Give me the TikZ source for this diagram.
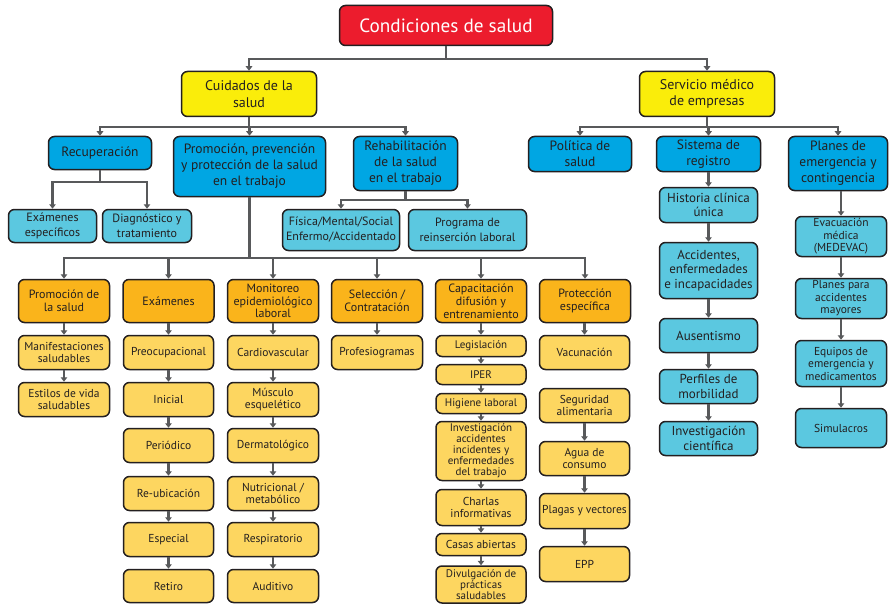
\documentclass[tikz,border=0pt]{standalone}
\usepackage{fontspec}
\setmainfont{PT Sans}
\usetikzlibrary{arrows.meta}

\definecolor{rootred}{HTML}{EC1C2D}
\definecolor{topyellow}{HTML}{FAED0A}
\definecolor{mainblue}{HTML}{00A6E3}
\definecolor{softblue}{HTML}{5BC8E0}
\definecolor{deeporange}{HTML}{FAB41B}
\definecolor{softyellow}{HTML}{FDD660}
\definecolor{wiregray}{HTML}{58595B}
\definecolor{inkdark}{HTML}{231F20}

\tikzset{
  wh/.style 2 args={minimum width=#1, minimum height=#2},
  boxbase/.style={draw=inkdark, line width=1.5pt, rounded corners=6pt,
    align=center, inner sep=1pt, text=inkdark},
  rootbox/.style={boxbase, fill=rootred, text=white,
    font=\fontsize{19.2}{23}\selectfont},
  topbox/.style={boxbase, fill=topyellow, font=\fontsize{14}{16.5}\selectfont},
  areabox/.style={boxbase, fill=mainblue, font=\fontsize{13.5}{16}\selectfont},
  subbox/.style={boxbase, fill=softblue, font=\fontsize{12}{15}\selectfont},
  regbox/.style={boxbase, fill=softblue, font=\fontsize{13}{14.5}\selectfont},
  emergbox/.style={boxbase, fill=softblue, font=\fontsize{11.5}{12.5}\selectfont},
  headbox/.style={boxbase, fill=deeporange, font=\fontsize{12}{12.8}\selectfont},
  itembox/.style={boxbase, fill=softyellow, font=\fontsize{11.5}{12.5}\selectfont},
  tinybox/.style={boxbase, fill=softyellow, font=\fontsize{11}{11}\selectfont},
  conn/.style={draw=wiregray, line width=2.6pt,
    -{Triangle[width=6.5pt,length=4.5pt]}},
}

\begin{document}
\begin{tikzpicture}[x=1pt, y=-1pt]
\fill[white] (0,0) rectangle (890,604);
\useasboundingbox (0,0) rectangle (890,604);

% bus heights
\coordinate (busA) at (0,59);
\coordinate (busB) at (0,127);
\coordinate (busC) at (0,182);
\coordinate (busD) at (0,200);
\coordinate (busE) at (0,258);

% top levels
\node[rootbox, wh={213}{40}] (root) at (446,25.5) {Condiciones de salud};
\node[topbox, wh={135}{45}] (cuid) at (249,94) {Cuidados de la\\salud};
\node[topbox, wh={135}{45}] (serv) at (707,94) {Servicio médico\\de empresas};

\node[areabox, wh={103}{33}] (recu) at (100,153) {Recuperación};
\node[areabox, wh={152}{60}] (prom) at (249.5,166.5) {Promoción, prevención\\y protección de la salud\\en el trabajo};
\node[areabox, wh={104}{54}] (rehab) at (405.5,163.5) {Rehabilitación\\de la salud\\en el trabajo};
\node[areabox, wh={103}{35}] (poli) at (580,154) {Política de\\salud};
\node[areabox, wh={104}{35}] (sist) at (708.5,154) {Sistema de\\registro};
\node[areabox, wh={99}{54}] (plan) at (838,163.5) {Planes de\\emergencia y\\contingencia};

\node[subbox, wh={88}{33}] (exesp) at (52.5,226) {Exámenes\\específicos};
\node[subbox, wh={89}{33}] (diag) at (147,226) {Diagnóstico y\\tratamiento};
\node[subbox, wh={117}{41}] (fis) at (341,230) {Física/Mental/Social\\Enfermo/Accidentado};
\node[subbox, wh={118}{41}] (prog) at (467.5,230) {Programa de\\reinserción laboral};

% column headers
\node[headbox, wh={91}{43}] (h1) at (64,301) {Promoción de\\la salud};
\node[headbox, wh={91}{43}] (h2) at (168.5,301) {Exámenes};
\node[headbox, wh={91}{43}] (h3) at (273,301) {Monitoreo\\epidemiológico\\laboral};
\node[headbox, wh={91}{43}] (h4) at (377,301) {Selección /\\Contratación};
\node[headbox, wh={91}{43}] (h5) at (481,301) {Capacitación\\difusión y\\entrenamiento};
\node[headbox, wh={91}{43}] (h6) at (585,301) {Protección\\específica};

% column 1
\node[itembox, wh={91}{34}] (a1) at (64,352.5) {Manifestaciones\\saludables};
\node[itembox, wh={91}{34}] (a2) at (64,399.5) {Estilos de vida\\saludables};
% column 2
\node[itembox, wh={90}{34}] (b1) at (168.5,352.5) {Preocupacional};
\node[itembox, wh={90}{34}] (b2) at (168.5,399.5) {Inicial};
\node[itembox, wh={90}{34}] (b3) at (168.5,445.5) {Periódico};
\node[itembox, wh={90}{34}] (b4) at (168.5,493.5) {Re-ubicación};
\node[itembox, wh={90}{34}] (b5) at (168.5,539.5) {Especial};
\node[itembox, wh={90}{33}] (b6) at (168.5,586) {Retiro};
% column 3
\node[itembox, wh={91}{34}] (c1) at (273,352.5) {Cardiovascular};
\node[itembox, wh={91}{34}] (c2) at (273,399.5) {Músculo\\esquelético};
\node[itembox, wh={91}{34}] (c3) at (273,445.5) {Dermatológico};
\node[itembox, wh={91}{34}] (c4) at (273,493.5) {Nutricional /\\metabólico};
\node[itembox, wh={91}{34}] (c5) at (273,539.5) {Respiratorio};
\node[itembox, wh={91}{33}] (c6) at (273,586) {Auditivo};
% column 4
\node[itembox, wh={91}{34}] (d1) at (377,352.5) {Profesiogramas};
% column 5
\node[tinybox, wh={90}{21}] (e1) at (481,346) {Legislación};
\node[tinybox, wh={90}{20}] (e2) at (481,374.5) {IPER};
\node[tinybox, wh={90}{20}] (e3) at (481,403.5) {Higiene laboral};
\node[tinybox, wh={90}{59}] (e4) at (481,451) {Investigación\\accidentes\\incidentes y\\enfermedades\\del trabajo};
\node[tinybox, wh={90}{36}, font=\fontsize{11.5}{12.5}\selectfont] (e5) at (481,507.5) {Charlas\\informativas};
\node[tinybox, wh={90}{22}, font=\fontsize{11.5}{12.5}\selectfont] (e6) at (481,544.5) {Casas abiertas};
\node[tinybox, wh={90}{37}] (e7) at (481,584.5) {Divulgación de\\prácticas\\saludables};
% column 6
\node[itembox, wh={90}{34}] (f1) at (584.5,352.5) {Vacunación};
\node[itembox, wh={90}{34}] (f2) at (584.5,405.5) {Seguridad\\alimentaria};
\node[itembox, wh={90}{34}] (f3) at (584.5,458.5) {Agua de\\consumo};
\node[itembox, wh={90}{35}] (f4) at (584.5,511) {Plagas y vectores};
\node[itembox, wh={90}{35}] (f5) at (584.5,564) {EPP};

% register column
\node[regbox, wh={98}{35}] (g1) at (708.5,205) {Historia clínica\\única};
\node[regbox, wh={98}{56}] (g2) at (708.5,270.5) {Accidentes,\\enfermedades\\e incapacidades};
\node[regbox, wh={98}{34}] (g3) at (708.5,335.5) {Ausentismo};
\node[regbox, wh={98}{34}] (g4) at (708.5,386.5) {Perfiles de\\morbilidad};
\node[regbox, wh={98}{34}] (g5) at (708.5,438.5) {Investigación\\científica};

% emergency column
\node[emergbox, wh={91}{40}] (k1) at (841,236.5) {Evacuación\\médica\\(MEDEVAC)};
\node[emergbox, wh={91}{40}] (k2) at (841,298.5) {Planes para\\accidentes\\mayores};
\node[emergbox, wh={91}{46}] (k3) at (841,363.5) {Equipos de\\emergencia y\\medicamentos};
\node[emergbox, wh={91}{39}] (k4) at (841,428) {Simulacros};

% branching connectors
\foreach \t in {cuid,serv}
  \draw[conn] (root.south) -- (root.south |- busA) -| (\t.north);
\foreach \t in {recu,prom,rehab}
  \draw[conn] (cuid.south) -- (cuid.south |- busB) -| (\t.north);
\foreach \t in {poli,sist,plan}
  \draw[conn] (serv.south) -- (serv.south |- busB) -| (\t.north);
\foreach \t in {exesp,diag}
  \draw[conn] (recu.south) -- (recu.south |- busC) -| (\t.north);
\foreach \t in {fis,prog}
  \draw[conn] (rehab.south) -- (rehab.south |- busD) -| (\t.north);
\foreach \t in {h1,h2,h3,h4,h5,h6}
  \draw[conn] (prom.south) -- (prom.south |- busE) -| (\t.north);

% vertical chains
\foreach \u/\v in {h1/a1,a1/a2,
                   h2/b1,b1/b2,b2/b3,b3/b4,b4/b5,b5/b6,
                   h3/c1,c1/c2,c2/c3,c3/c4,c4/c5,c5/c6,
                   h4/d1,
                   h5/e1,e1/e2,e2/e3,e3/e4,e4/e5,e5/e6,e6/e7,
                   f2/f3,f3/f4,f4/f5,
                   sist/g1,g1/g2,g2/g3,g3/g4,g4/g5,
                   k1/k2,k2/k3,k3/k4}
  \draw[conn] (\u.south) -- (\v.north);
\draw[conn] (f1.north |- h6.south) -- (f1.north);
\draw[conn] (k1.north |- plan.south) -- (k1.north);
\end{tikzpicture}
\end{document}
